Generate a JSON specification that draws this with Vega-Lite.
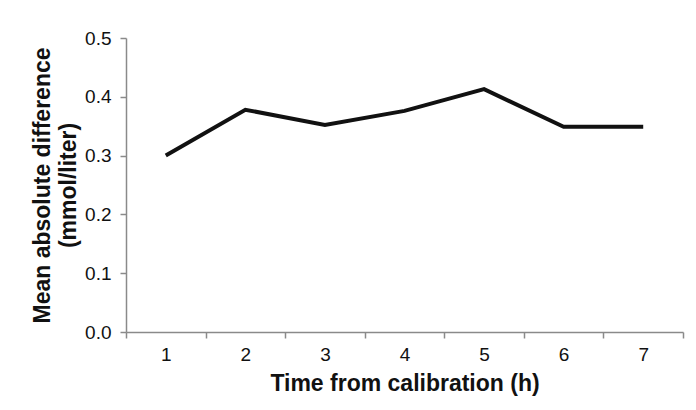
{
  "$schema": "https://vega.github.io/schema/vega-lite/v6.json",
  "width": 557,
  "height": 294,
  "autosize": {"type": "none"},
  "padding": {"left": 126, "top": 38, "right": 13, "bottom": 78},
  "background": "white",
  "config": {
    "view": {"stroke": null},
    "font": "Liberation Sans"
  },
  "data": {
    "values": [
      {"hour": 1, "diff": 0.300},
      {"hour": 2, "diff": 0.378},
      {"hour": 3, "diff": 0.352},
      {"hour": 4, "diff": 0.376},
      {"hour": 5, "diff": 0.413},
      {"hour": 6, "diff": 0.349},
      {"hour": 7, "diff": 0.349}
    ]
  },
  "mark": {"type": "line", "color": "#111111", "strokeWidth": 4, "strokeJoin": "miter"},
  "encoding": {
    "x": {
      "field": "hour",
      "type": "quantitative",
      "scale": {"domain": [0.5, 7.5], "nice": false, "zero": false},
      "axis": {
        "title": "Time from calibration (h)",
        "values": [0.5, 1, 1.5, 2, 2.5, 3, 3.5, 4, 4.5, 5, 5.5, 6, 6.5, 7, 7.5],
        "labelExpr": "datum.value % 1 === 0 ? format(datum.value, 'd') : ''",
        "labelOverlap": false,
        "labelFontSize": 19,
        "labelColor": "#111111",
        "labelPadding": 7,
        "tickSize": 6,
        "tickWidth": 1.5,
        "tickColor": {"condition": {"test": "datum.value % 1 === 0", "value": "transparent"}, "value": "#8a8a8a"},
        "domainColor": "#8a8a8a",
        "domainWidth": 1.5,
        "grid": false,
        "titleFontSize": 23,
        "titleFontWeight": "bold",
        "titleColor": "#111111",
        "titlePadding": 8
      }
    },
    "y": {
      "field": "diff",
      "type": "quantitative",
      "scale": {"domain": [0, 0.5], "nice": false},
      "axis": {
        "title": ["Mean absolute difference", "(mmol/liter)"],
        "values": [0, 0.1, 0.2, 0.3, 0.4, 0.5],
        "format": ".1f",
        "labelFontSize": 19,
        "labelColor": "#111111",
        "labelPadding": 9,
        "tickSize": 6,
        "tickWidth": 1.5,
        "tickColor": "#8a8a8a",
        "domainColor": "#8a8a8a",
        "domainWidth": 1.5,
        "grid": false,
        "titleFontSize": 23,
        "titleFontWeight": "bold",
        "titleColor": "#111111",
        "titleLineHeight": 26,
        "titlePadding": 4
      }
    }
  }
}
